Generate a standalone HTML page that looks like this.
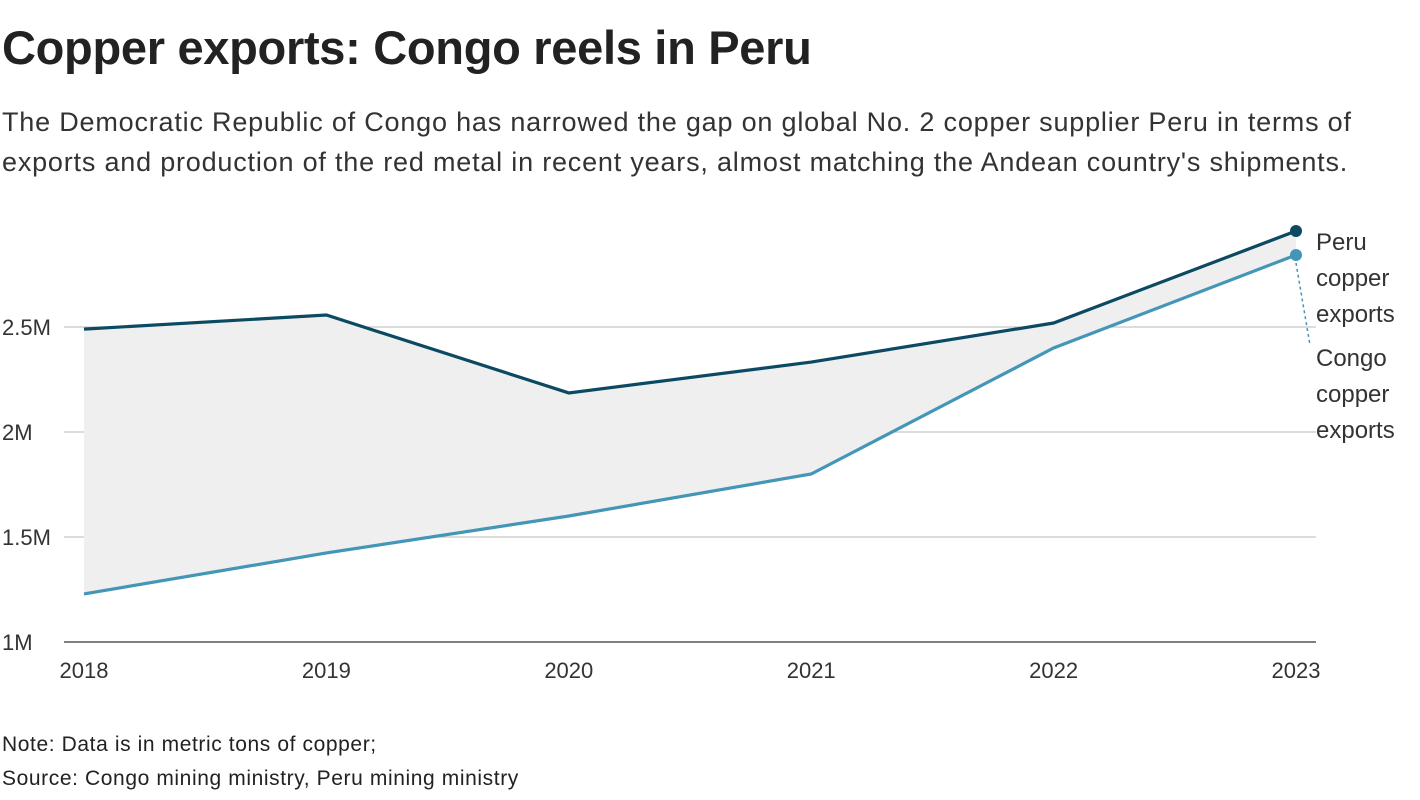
<!DOCTYPE html>
<html><head><meta charset="utf-8"><style>
body{margin:0;width:1420px;height:800px;background:#fff;font-family:"Liberation Sans",sans-serif;color:#222;overflow:hidden;position:relative}
.t{position:absolute;left:2px;top:20px;font-size:47px;font-weight:bold;margin:0;letter-spacing:-0.3px}
.s{position:absolute;left:2px;top:102px;font-size:27px;line-height:40px;color:#333;width:1380px;margin:0;letter-spacing:0.8px}
.n{position:absolute;left:2px;font-size:21px;color:#222;letter-spacing:0.6px}
</style></head><body>
<h1 class="t">Copper exports: Congo reels in Peru</h1>
<p class="s">The Democratic Republic of Congo has narrowed the gap on global No. 2 copper supplier Peru in terms of<br>exports and production of the red metal in recent years, almost matching the Andean country's shipments.</p>
<svg id="c" width="1420" height="800" style="position:absolute;left:0;top:0"></svg>
<div class="n" style="top:733px">Note: Data is in metric tons of copper;</div>
<div class="n" style="top:767px">Source: Congo mining ministry, Peru mining ministry</div>
<script>
const years=["2018","2019","2020","2021","2022","2023"];
const peru=[2.49,2.557,2.186,2.333,2.519,2.957];
const congo=[1.229,1.424,1.6,1.8,2.4,2.843];
const yTicks=[1,1.5,2,2.5];
const yTickLabels=["1M","1.5M","2M","2.5M"];
const NS="http://www.w3.org/2000/svg";
const svg=document.getElementById('c');
const x=i=>84+i*(1296-84)/(years.length-1);
const y=v=>642-(v-1)*210;
function mk(t,a){const e=document.createElementNS(NS,t);for(const k in a)e.setAttribute(k,a[k]);svg.appendChild(e);return e;}
yTicks.forEach((v,i)=>{
 const l=mk('line',{x1:64,x2:1316,y1:y(v),y2:y(v),stroke:i==0?'#333':'#c8c8c8','stroke-width':i==0?1.3:1.2});
 
 
 const t=mk('text',{x:2,y:y(v)+8,'font-size':22,fill:'#333','font-family':'Liberation Sans'});
 t.textContent=yTickLabels[i];
 
 
});
years.forEach((yr,i)=>{
 const t=mk('text',{x:x(i),y:678,'font-size':22,fill:'#333','text-anchor':'middle','font-family':'Liberation Sans'});
 t.textContent=yr;
 
 
});
let d=peru.map((v,i)=>(i?'L':'M')+x(i)+','+y(v)).join('');
for(let i=congo.length-1;i>=0;i--)d+='L'+x(i)+','+y(congo[i]);
const a=mk('path',{d:d+'Z',fill:'#efefef'});


function line(arr,col,name){
 const p=mk('path',{d:arr.map((v,i)=>(i?'L':'M')+x(i)+','+y(v)).join(''),fill:'none',stroke:col,'stroke-width':3.2});
 
 
 const c=mk('circle',{cx:x(arr.length-1),cy:y(arr[arr.length-1]),r:6,fill:col});
 
 
}
line(congo,'#4396b7','congo');
line(peru,'#0c4a63','peru');
const dl=mk('line',{x1:x(5),y1:y(congo[5])+8,x2:1310,y2:345,stroke:'#4396b7','stroke-width':1.5,'stroke-dasharray':'3,3'});


function lab(lines,y0,name){
 lines.forEach((s,i)=>{const t=mk('text',{x:1316,y:y0+i*36,'font-size':24,fill:'#333','font-family':'Liberation Sans'});t.textContent=s;
 
 });
}
lab(["Peru","copper","exports"],250,'peru-label');
lab(["Congo","copper","exports"],366,'congo-label');
</script>
</body></html>
